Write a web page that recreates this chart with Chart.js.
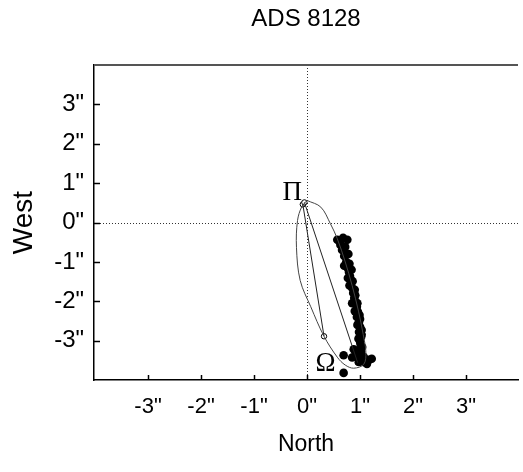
<!DOCTYPE html>
<html><head><meta charset="utf-8">
<script src="https://cdn.jsdelivr.net/npm/chart.js@4/dist/chart.umd.min.js"></script>
<style>html,body{margin:0;padding:0;background:#fff;overflow:hidden}#wrap{width:523px;height:472px}</style>
</head><body><div id="wrap"><canvas id="c" width="523" height="472"></canvas></div>
<script>
// ---- data ----
const chartTitle = 'ADS 8128';
const xAxisTitle = 'North';
const yAxisTitle = 'West';
const tickValues = [-3, -2, -1, 0, 1, 2, 3];

// observed positions (filled dots)
const obsX = [0.57,0.68,0.76,0.63,0.66,0.70,0.78,0.74,0.76,0.79,0.81,0.77,0.83,0.86,0.85,0.90,0.87,0.89,0.92,0.94,0.96,0.99,0.94,0.98,1.00,1.03,0.98,1.02,1.00,1.04,0.88,0.94,1.02,0.90,1.07,0.69,0.85,0.98,1.17,1.22,1.13,0.69,
              0.62,0.72,0.80,0.70,0.84,0.80,0.91,0.85,0.95,0.90,1.00,0.95,1.03,0.97,1.01,0.96,1.08];
const obsY = [-0.44,-0.39,-0.44,-0.57,-0.70,-0.85,-0.80,-1.00,-1.15,-1.26,-1.36,-1.41,-1.53,-1.49,-1.66,-1.71,-1.79,-1.92,-2.02,-2.14,-2.27,-2.35,-2.40,-2.53,-2.65,-2.73,-2.78,-2.91,-3.03,-3.16,-3.22,-3.26,-3.29,-3.39,-3.41,-3.37,-3.43,-3.54,-3.49,-3.46,-3.59,-3.82,
              -0.50,-0.62,-1.05,-1.10,-1.20,-1.60,-1.85,-2.05,-2.05,-2.25,-2.45,-2.60,-2.85,-2.95,-3.10,-3.45,-3.55];

// apparent orbit (points read around the ellipse)
const orbitX = [0.00,0.26,0.44,0.57,0.72,0.85,0.97,1.06,1.11,1.07,0.88,0.72,0.57,0.32,0.07,-0.13,-0.20,-0.18,-0.10,0.00];
const orbitY = [0.56,0.39,-0.03,-0.41,-1.00,-1.60,-2.25,-2.85,-3.30,-3.60,-3.70,-3.62,-3.42,-2.89,-2.14,-1.47,-0.63,0.05,0.40,0.56];

// line of apsides and line of nodes
const apsidesX = [-0.08, 0.32];
const apsidesY = [0.46, -2.89];
const nodesX = [-0.05, 0.955];
const nodesY = [0.51, -3.56];

// open circle markers
const markerX = [-0.08, -0.05, 0.32, 0.955];
const markerY = [0.46, 0.51, -2.89, -3.56];

// text labels on the plot
const labelTexts = ['\u03A0', '\u03A9'];
const labelX = [-0.28, 0.35];
const labelY = [0.74, -3.58];

// ---- build ----
const pts = (xs, ys) => xs.map((v, i) => ({x: v, y: ys[i]}));
const FONT = '"Liberation Sans", Arial, Helvetica, sans-serif';

const crossHair = {
  id: 'crossHair',
  beforeDatasetsDraw(chart) {
    const {ctx, chartArea: a, scales: {x, y}} = chart;
    ctx.save();
    ctx.strokeStyle = '#333';
    ctx.lineWidth = 1;
    ctx.setLineDash([1, 2]);
    const px = Math.round(x.getPixelForValue(0)) + 0.5, py = Math.round(y.getPixelForValue(0)) + 0.5;
    ctx.beginPath(); ctx.moveTo(px, a.top); ctx.lineTo(px, a.bottom); ctx.stroke();
    ctx.beginPath(); ctx.moveTo(a.left, py); ctx.lineTo(a.right, py); ctx.stroke();
    ctx.restore();
  }
};

const frame = {
  id: 'frame',
  afterDraw(chart) {
    const {ctx, chartArea: a, scales: {x, y}} = chart;
    ctx.save();
    ctx.strokeStyle = '#555';
    ctx.lineWidth = 2;
    ctx.beginPath(); ctx.moveTo(a.left, a.top); ctx.lineTo(a.right, a.top); ctx.stroke();
    ctx.strokeStyle = '#000';
    ctx.lineWidth = 1.5;
    x.ticks.forEach(t => {
      const p = Math.round(x.getPixelForValue(t.value)) + 0.5;
      ctx.beginPath(); ctx.moveTo(p, a.bottom); ctx.lineTo(p, a.bottom - 5); ctx.stroke();
    });
    y.ticks.forEach(t => {
      const p = Math.round(y.getPixelForValue(t.value)) + 0.5;
      ctx.beginPath(); ctx.moveTo(a.left, p); ctx.lineTo(a.left + 6, p); ctx.stroke();
    });
    ctx.restore();
  }
};

const plotLabels = {
  id: 'plotLabels',
  afterDatasetsDraw(chart) {
    const {ctx, scales: {x, y}} = chart;
    ctx.save();
    ctx.fillStyle = '#000';
    ctx.font = '27px "Liberation Serif", "Times New Roman", serif';
    ctx.textAlign = 'center';
    ctx.textBaseline = 'middle';
    labelTexts.forEach((t, i) => ctx.fillText(t, x.getPixelForValue(labelX[i]), y.getPixelForValue(labelY[i])));
    ctx.restore();
  }
};

new Chart(document.getElementById('c'), {
  type: 'scatter',
  data: {
    datasets: [
      {data: pts(orbitX, orbitY), showLine: true, pointRadius: 0, borderColor: '#444', borderWidth: 1, tension: 0.35, fill: false},
      {data: pts(apsidesX, apsidesY), showLine: true, pointRadius: 0, borderColor: '#222', borderWidth: 1},
      {data: pts(nodesX, nodesY), showLine: true, pointRadius: 0, borderColor: '#222', borderWidth: 1},
      {data: pts(obsX, obsY), pointRadius: 4.3, backgroundColor: '#000', borderWidth: 0, pointHoverRadius: 4.3},
      {data: pts(markerX, markerY), pointRadius: 2.7, backgroundColor: '#fff', borderColor: '#000', borderWidth: 1}
    ]
  },
  options: {
    responsive: false,
    animation: false,
    devicePixelRatio: 1,
    events: [],
    layout: {padding: 0},
    plugins: {
      legend: {display: false},
      tooltip: {enabled: false},
      title: {display: true, text: chartTitle, fullSize: false, color: '#000',
              font: {family: FONT, size: 24, weight: 'normal'}, padding: {top: 5, bottom: 31.2}}
    },
    scales: {
      x: {
        type: 'linear', min: -4.02, max: 3.98,
        afterBuildTicks: s => { s.ticks = tickValues.map(v => ({value: v})); },
        afterFit: s => { s.height = 92; },
        grid: {display: false, drawTicks: false},
        border: {display: true, color: '#000', width: 1.5},
        ticks: {callback: v => v + '"', color: '#000', font: {family: FONT, size: 22}, padding: 14, maxRotation: 0, autoSkip: false},
        title: {display: true, text: xAxisTitle, color: '#000', font: {family: FONT, size: 23}, padding: {top: 0, bottom: 14}}
      },
      y: {
        type: 'linear', min: -4, max: 4,
        afterBuildTicks: s => { s.ticks = tickValues.map(v => ({value: v})); },
        afterFit: s => { s.width = 94; },
        grid: {display: false, drawTicks: false},
        border: {display: true, color: '#000', width: 1.5},
        ticks: {callback: v => v + '"', color: '#000', font: {family: FONT, size: 24}, padding: 10, autoSkip: false},
        title: {display: true, text: yAxisTitle, color: '#000', font: {family: FONT, size: 28}, padding: {top: 7, bottom: 0}}
      }
    }
  },
  plugins: [crossHair, frame, plotLabels]
});
</script>
</body></html>
